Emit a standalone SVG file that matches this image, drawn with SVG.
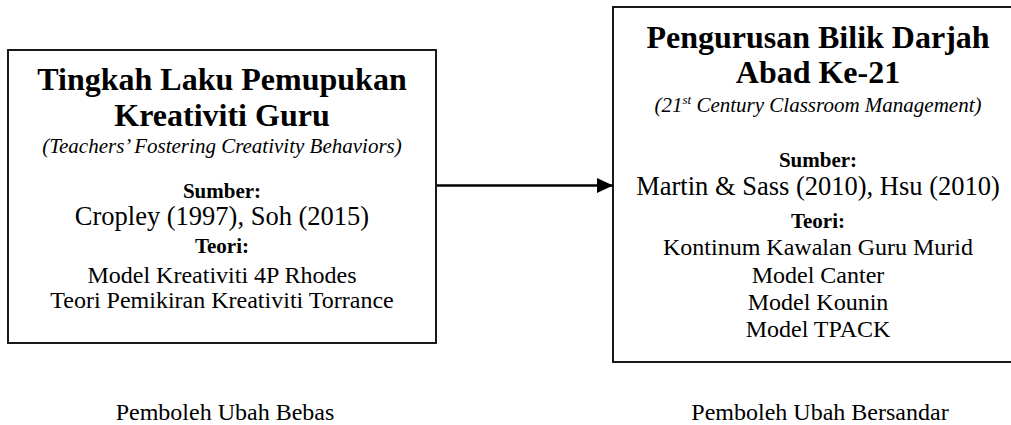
<svg xmlns="http://www.w3.org/2000/svg" width="1011" height="425" viewBox="0 0 1011 425">
<style>
text{font-family:"Liberation Serif","Times New Roman",serif;fill:#000;text-anchor:middle}
.t{font-size:32px;font-weight:bold}
.i{font-size:21px;font-style:italic}
.h{font-size:21px;font-weight:bold}
.s{font-size:26.5px}
.m{font-size:24px}
.box{fill:#fff;stroke:#000;stroke-width:1.8}
</style>
<defs>
<marker id="ah" viewBox="0 0 16 15" refX="16" refY="7.5" markerWidth="16" markerHeight="15" markerUnits="userSpaceOnUse" orient="auto">
<path d="M0,0 L16,7.5 L0,15 Z" fill="#000"/>
</marker>
</defs>
<rect width="1011" height="425" fill="#fff"/>
<g id="connectors">
<line x1="437" y1="185.5" x2="613" y2="185.5" stroke="#000" stroke-width="2.5" marker-end="url(#ah)"/>
</g>
<g id="node-left">
<rect class="box" x="8" y="50" width="428" height="293"/>
<text class="t" x="222" y="90">Tingkah Laku Pemupukan</text>
<text class="t" x="222" y="126">Kreativiti Guru</text>
<text class="i" x="222" y="153">(Teachers’ Fostering Creativity Behaviors)</text>
<text class="h" x="222" y="198">Sumber:</text>
<text class="s" x="222" y="225">Cropley (1997), Soh (2015)</text>
<text class="h" x="222" y="253">Teori:</text>
<text class="m" x="222" y="283">Model Kreativiti 4P Rhodes</text>
<text class="m" x="222" y="308">Teori Pemikiran Kreativiti Torrance</text>
</g>
<g id="node-right">
<rect class="box" x="613" y="7" width="402" height="355"/>
<text class="t" x="818" y="48">Pengurusan Bilik Darjah</text>
<text class="t" x="818" y="83">Abad Ke-21</text>
<text class="i" x="818" y="112">(21<tspan font-size="13px" dy="-8">st</tspan><tspan dy="8"> Century Classroom Management)</tspan></text>
<text class="h" x="818" y="167">Sumber:</text>
<text class="s" x="818" y="195">Martin &amp; Sass (2010), Hsu (2010)</text>
<text class="h" x="818" y="228">Teori:</text>
<text class="m" x="818" y="255">Kontinum Kawalan Guru Murid</text>
<text class="m" x="818" y="283">Model Canter</text>
<text class="m" x="818" y="310">Model Kounin</text>
<text class="m" x="818" y="337">Model TPACK</text>
</g>
<g id="label-left">
<text class="m" x="225" y="420">Pemboleh Ubah Bebas</text>
</g>
<g id="label-right">
<text class="m" x="820" y="420">Pemboleh Ubah Bersandar</text>
</g>
</svg>
